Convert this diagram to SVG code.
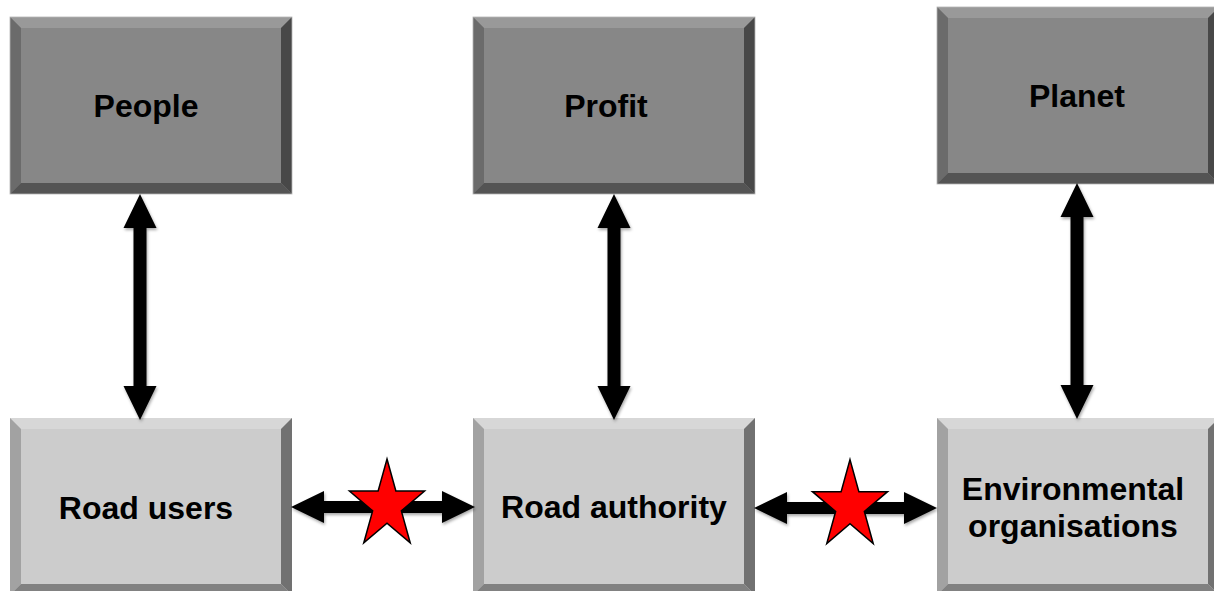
<svg xmlns="http://www.w3.org/2000/svg" xmlns:xlink="http://www.w3.org/1999/xlink" width="1214" height="591" viewBox="0 0 1214 591">
<style>
.lbl{font-family:"Liberation Sans",Arial,sans-serif;font-weight:bold;font-size:32px;fill:#000;text-anchor:middle}
.arr{fill:#000;filter:url(#sh)}
.star{fill:#ff0000;stroke:#000;stroke-width:1.5;stroke-linejoin:miter}
</style>
<defs>
<filter id="sh" x="-20%" y="-20%" width="140%" height="140%">
<feDropShadow dx="1" dy="2" stdDeviation="1.5" flood-color="#000" flood-opacity="0.35"/>
</filter>
<g id="darkBox">
<rect x="0" y="0" width="282" height="177" fill="#878787"/>
<polygon points="0,0 282,0 271,11 11,11" fill="#999999"/>
<polygon points="0,0 11,11 11,166 0,177" fill="#6b6b6b"/>
<polygon points="282,0 282,177 271,166 271,11" fill="#484848"/>
<polygon points="0,177 11,166 271,166 282,177" fill="#545454"/>
<rect x="0" y="0" width="282" height="177" fill="none" stroke="#b5b5b5" stroke-width="0.8"/>
</g>
<g id="lightBox">
<rect x="0" y="0" width="282" height="177" fill="#cccccc"/>
<polygon points="0,0 282,0 271,11 11,11" fill="#d7d7d7"/>
<polygon points="0,0 11,11 11,166 0,177" fill="#a2a2a2"/>
<polygon points="282,0 282,177 271,166 271,11" fill="#717171"/>
<polygon points="0,177 11,166 271,166 282,177" fill="#818181"/>
</g>
<polygon id="starShape" points="0,-46.4 8.87,-14.34 37.56,-14.34 14.35,5.48 23.23,37.54 0,17.72 -23.23,37.54 -14.35,5.48 -37.56,-14.34 -8.87,-14.34"/>
</defs>
<rect width="1214" height="591" fill="#ffffff"/>

<g id="node-people">
<use xlink:href="#darkBox" x="10" y="17"/>
<text class="lbl" x="146" y="117">People</text>
</g>
<g id="node-profit">
<use xlink:href="#darkBox" x="473" y="17"/>
<text class="lbl" x="606" y="117">Profit</text>
</g>
<g id="node-planet">
<use xlink:href="#darkBox" x="937" y="7"/>
<text class="lbl" x="1077" y="107">Planet</text>
</g>
<g id="node-road-users">
<use xlink:href="#lightBox" x="10" y="418"/>
<text class="lbl" x="146" y="519">Road users</text>
</g>
<g id="node-road-authority">
<use xlink:href="#lightBox" x="473" y="418"/>
<text class="lbl" x="614" y="518">Road authority</text>
</g>
<g id="node-env">
<use xlink:href="#lightBox" x="937" y="418"/>
<text class="lbl" x="1073" y="500">Environmental</text>
<text class="lbl" x="1073" y="537">organisations</text>
</g>

<g id="connectors">
<polygon class="arr" points="140,194 156.5,228 146.5,228 146.5,386 156.5,386 140,420 123.5,386 133.5,386 133.5,228 123.5,228"/>
<polygon class="arr" points="614,194 630.5,228 620.5,228 620.5,386 630.5,386 614,420 597.5,386 607.5,386 607.5,228 597.5,228"/>
<polygon class="arr" points="1077,183 1093.5,217 1083.5,217 1083.5,385 1093.5,385 1077,419 1060.5,385 1070.5,385 1070.5,217 1060.5,217"/>
<polygon class="arr" points="291,507 324,491 324,501 442,501 442,491 475,507 442,523 442,513 324,513 324,523"/>
<polygon class="arr" points="754,508 787,492 787,502 904,502 904,492 937,508 904,524 904,514 787,514 787,524"/>
<use xlink:href="#starShape" class="star" x="387" y="505.4"/>
<use xlink:href="#starShape" class="star" x="850" y="506"/>
</g>
</svg>
